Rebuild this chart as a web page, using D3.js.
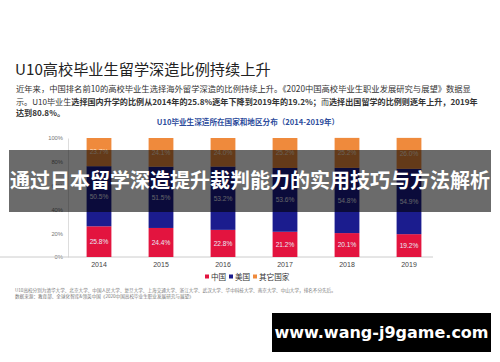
<!DOCTYPE html>
<html>
<head>
<meta charset="utf-8">
<script src="https://cdnjs.cloudflare.com/ajax/libs/d3/7.8.4/d3.min.js"></script>
<style>
  body { margin: 0; background: #fff; }
  svg { display: block; font-family: "Noto Sans CJK SC", "Noto Sans", sans-serif; }
</style>
</head>
<body>
<div id="chart"></div>
<script>
// données
const annees = ["2014", "2015", "2016", "2017", "2018", "2019"];
const chine = [25.8, 24.4, 22.8, 21.2, 20.1, 19.2];
const usa = [50.5, 51.5, 53.2, 53.6, 54.8, 54.9];
const autres = [23.7, 24.1, 24.0, 25.2, 25.2, 26.0];
const series = ["中国", "美国", "其它国家"];
const couleurs = ["#e3143f", "#1b1c8e", "#ef8a3c"];
const ticksY = [0, 20, 40, 60, 80, 100];

const W = 500, H = 362;
const svg = d3.select("#chart").append("svg").attr("width", W).attr("height", H);

// titre + paragraphe
svg.append("text").attr("x", 15).attr("y", 75)
  .attr("font-size", 15.2).attr("fill", "#222")
  .text("U10高校毕业生留学深造比例持续上升");

const para = svg.append("g").attr("font-size", 7.9).attr("fill", "#333");
para.append("text").attr("x", 16).attr("y", 92).attr("font-size", 8.3)
  .text("近年来，中国排名前10的高校毕业生选择海外留学深造的比例持续上升。《2020中国高校毕业生职业发展研究与展望》数据显");
const l2 = para.append("text").attr("x", 16).attr("y", 105).attr("font-size", 8.1);
l2.append("tspan").text("示。U10毕业生");
l2.append("tspan").attr("font-weight", "bold")
  .text("选择国内升学的比例从2014年的25.8%逐年下降到2019年的19.2%；");
l2.append("tspan").text("而");
l2.append("tspan").attr("font-weight", "bold").text("选择出国留学的比例则逐年上升，2019年");
para.append("text").attr("x", 16).attr("y", 116).attr("font-size", 8.1)
  .attr("font-weight", "bold").text("达到80.8%。");

svg.append("text").attr("x", 248).attr("y", 125).attr("text-anchor", "middle")
  .attr("font-size", 7.6).attr("font-weight", "bold").attr("fill", "#2d4c9c")
  .text("U10毕业生深造所在国家和地区分布（2014-2019年）");

// échelles
const x = d3.scaleBand().domain(annees).range([68, 440]).paddingInner(0.6).paddingOuter(0.3);
const y = d3.scaleLinear().domain([0, 100]).range([257, 138]);

const g = svg.append("g");
// axe Y
const yAxis = g.append("g").attr("transform", "translate(68,0)")
  .call(d3.axisLeft(y).tickValues(ticksY).tickFormat(d => d + "%").tickSize(0).tickPadding(5));
yAxis.select(".domain").attr("stroke", "#ddd");
yAxis.selectAll("text").attr("font-size", 5.8).attr("fill", "#777")
  .attr("font-family", "Liberation Sans, sans-serif");

// axe X
const xAxis = g.append("g").attr("transform", "translate(0,257)")
  .call(d3.axisBottom(x).tickSize(0).tickPadding(5));
xAxis.select(".domain").attr("stroke", "#ccc").attr("d", "M0,0H433");
xAxis.selectAll("text").attr("font-size", 7).attr("fill", "#444")
  .attr("font-family", "Liberation Sans, sans-serif");

// empilement
const table = annees.map((a, i) => ({ annee: a, "中国": chine[i], "美国": usa[i], "其它国家": autres[i] }));
const pile = d3.stack().keys(series)(table);

const couches = g.selectAll(".couche").data(pile).join("g")
  .attr("fill", (d, i) => couleurs[i]);
couches.selectAll("rect").data(d => d).join("rect")
  .attr("x", d => x(d.data.annee))
  .attr("width", x.bandwidth())
  .attr("y", d => y(d[1]))
  .attr("height", d => y(d[0]) - y(d[1]));

couches.selectAll("text").data(d => d.map(v => ({ v, key: d.key }))).join("text")
  .attr("x", d => x(d.v.data.annee) + x.bandwidth() / 2)
  .attr("y", d => (y(d.v[0]) + y(d.v[1])) / 2 + 2.3)
  .attr("text-anchor", "middle")
  .attr("font-size", 6.6)
  .attr("font-family", "Liberation Sans, sans-serif")
  .attr("fill", d => d.key === "其它国家" ? "#fde3cc" : "#e8e8f5")
  .text(d => d.v.data[d.key].toFixed(1) + "%");

// légende
const leg = svg.append("g").attr("font-size", 7.6).attr("fill", "#333");
const posLeg = [205, 229, 253];
series.forEach((s, i) => {
  leg.append("rect").attr("x", posLeg[i]).attr("y", 274.5).attr("width", 4).attr("height", 4).attr("fill", couleurs[i]);
  leg.append("text").attr("x", posLeg[i] + 6).attr("y", 280).text(s);
});

// notes
const notes = svg.append("g").attr("font-size", 4.6).attr("fill", "#777");
notes.append("text").attr("x", 15).attr("y", 292)
  .text("U10高校分别为清华大学、北京大学、中国人民大学、复旦大学、上海交通大学、浙江大学、武汉大学、华中科技大学、南京大学、中山大学，排名不分先后。");
notes.append("text").attr("x", 15).attr("y", 298)
  .text("数据来源：教育部、全球化智库&领英中国《2020中国高校毕业生职业发展研究与展望》");

// bandeau sombre + titre
svg.append("rect").attr("x", 9).attr("y", 150).attr("width", 482).attr("height", 62)
  .attr("fill", "rgba(0,0,0,0.58)");
svg.append("text").attr("x", 250).attr("y", 188).attr("text-anchor", "middle")
  .attr("font-size", 20).attr("font-weight", "bold").attr("fill", "#fff")
  .text("通过日本留学深造提升裁判能力的实用技巧与方法解析");

// pavé url
svg.append("rect").attr("x", 272).attr("y", 313).attr("width", 219).attr("height", 39).attr("fill", "#000");
svg.append("text").attr("x", 381.5).attr("y", 338).attr("text-anchor", "middle")
  .attr("font-size", 16).attr("font-weight", "bold").attr("fill", "#fff")
  .attr("font-family", "DejaVu Sans, sans-serif")
  .text("www.wang-j9game.com");
</script>
</body>
</html>
